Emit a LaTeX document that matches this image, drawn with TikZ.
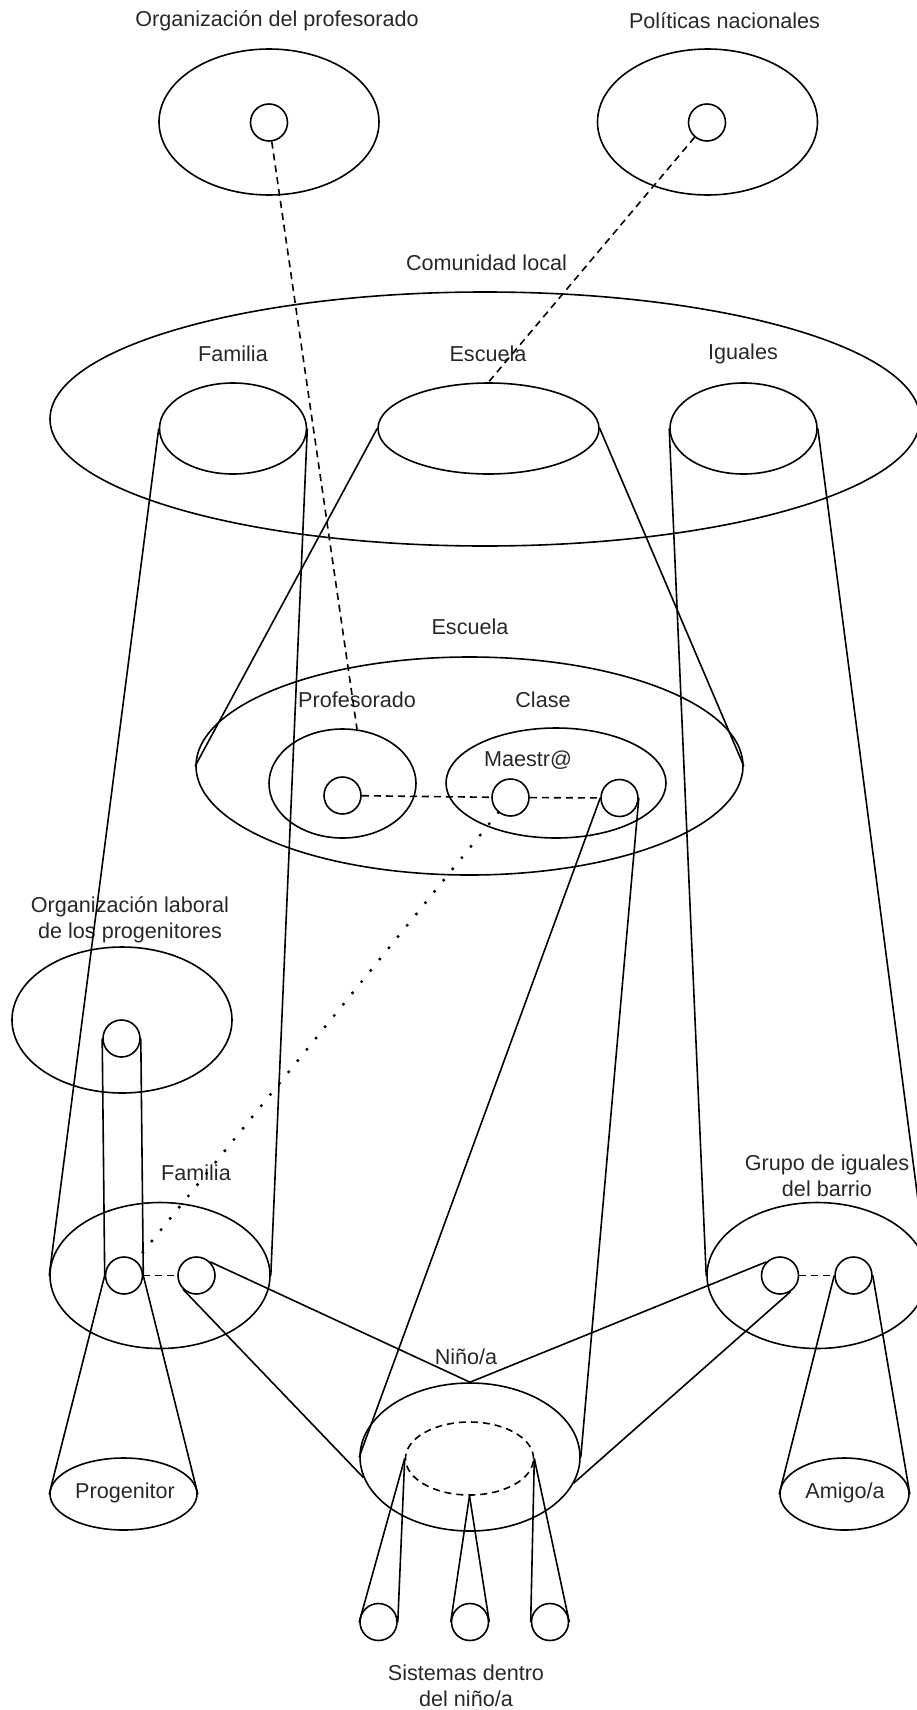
\documentclass[tikz,border=0pt]{standalone}
\usepackage{fontspec}
\setmainfont{Liberation Sans}
\usepackage{tikz}
\usetikzlibrary{shapes.geometric}
\definecolor{InkGray}{RGB}{40, 40, 40}

\begin{document}
\begin{tikzpicture}[
        x=1pt, y=-1pt,
        ring/.style={draw=black, ellipse, inner sep=0pt, line width=1.6pt},
        pin/.style={draw=black, circle, inner sep=0pt, minimum size=37pt, line width=1.6pt},
        lbl/.style={font=\fontsize{21.6}{26.5}\selectfont, text=InkGray, align=center, inner sep=0pt},
        link/.style={line width=1.6pt, black},
        dashlink/.style={link, dash pattern=on 7pt off 5pt},
        dotlink/.style={line width=3.4pt, black, line cap=round, dash pattern=on 0pt off 14.5pt}
      ]
        \fill[white] (0,0) rectangle (917,1710);
        \useasboundingbox (0,0) rectangle (917,1710);

        % Nodes
        \node [ring, minimum width=220pt, minimum height=146pt] (orgprof) at (269,122) {};
        \node [pin] (orgprofp) at (269,122.5) {};
        \node [ring, minimum width=220pt, minimum height=146pt] (polnac) at (707.5,122) {};
        \node [pin] (polnacp) at (707,122.5) {};

        \node [ring, minimum width=870pt, minimum height=254pt] (comun) at (485,419) {};
        \node [ring, minimum width=147pt, minimum height=91pt] (famC) at (233,428.5) {};
        \node [ring, minimum width=221pt, minimum height=91pt] (escC) at (488.5,428.5) {};
        \node [ring, minimum width=147pt, minimum height=91pt] (iguC) at (743.5,428.5) {};

        \node [ring, minimum width=547pt, minimum height=218pt] (escuela) at (469.5,766) {};
        \node [ring, minimum width=147pt, minimum height=109pt] (prof) at (342.5,783.5) {};
        \node [ring, minimum width=220pt, minimum height=110pt] (clase) at (556,783) {};
        \node [pin] (profp) at (342.5,795.5) {};
        \node [pin] (maestro) at (510.5,797.5) {};
        \node [pin] (ninoC) at (619.5,798) {};

        \node [ring, minimum width=220pt, minimum height=146pt] (orglab) at (122,1020) {};
        \node [pin] (orglabp) at (121.5,1038.5) {};

        \node [ring, minimum width=220pt, minimum height=146pt] (famL) at (160,1275.5) {};
        \node [pin] (famLa) at (124,1275.5) {};
        \node [pin] (famLb) at (196.5,1275.5) {};
        \node [ring, minimum width=220pt, minimum height=146pt] (grupo) at (817,1275.5) {};
        \node [pin] (grupoa) at (780,1275.5) {};
        \node [pin] (grupob) at (853.5,1275.5) {};

        \node [ring, minimum width=220pt, minimum height=148pt] (nino) at (470,1457) {};
        \node [ring, dash pattern=on 7pt off 5pt, minimum width=128pt, minimum height=73pt] (ninoin) at (469.5,1458.5) {};
        \node [ring, minimum width=147pt, minimum height=72pt] (prog) at (123.5,1494) {};
        \node [ring, minimum width=129pt, minimum height=72pt] (amigo) at (844.5,1494) {};
        \node [pin] (sys1) at (378.5,1622) {};
        \node [pin] (sys2) at (470,1622) {};
        \node [pin] (sys3) at (550,1622) {};

        % Labels
        \node [lbl] (t-orgprof) at (277,21) {Organización del profesorado};
        \node [lbl] (t-polnac) at (724.5,21) {Políticas nacionales};
        \node [lbl] (t-comun) at (486.5,263) {Comunidad local};
        \node [lbl] (t-famC) at (233,354) {Familia};
        \node [lbl] (t-escC) at (488,354) {Escuela};
        \node [lbl] (t-iguC) at (743,354) {Iguales};
        \node [lbl] (t-escuela) at (470,627) {Escuela};
        \node [lbl] (t-prof) at (357,700) {Profesorado};
        \node [lbl] (t-clase) at (543,700) {Clase};
        \node [lbl] (t-maestro) at (528,760) {Maestr@};
        \node [lbl] (t-orglab) at (130,920) {Organización laboral\\de los progenitores};
        \node [lbl] (t-famL) at (196,1173) {Familia};
        \node [lbl] (t-grupo) at (827,1176) {Grupo de iguales\\del barrio};
        \node [lbl] (t-nino) at (466,1357) {Niño/a};
        \node [lbl] (t-prog) at (125,1493) {Progenitor};
        \node [lbl] (t-amigo) at (845,1493) {Amigo/a};
        \node [lbl] (t-sys) at (466,1686) {Sistemas dentro\\del niño/a};

        % Connections
        \draw [dashlink] (orgprofp) -- (prof.75);
        \draw [dashlink] (polnacp) -- (escC.north);

        \draw [link] (famC.west) -- (famL.west);
        \draw [link] (famC.east) -- (famL.east);
        \draw [link] (escC.west) -- (escuela.west);
        \draw [link] (escC.east) -- (escuela.east);
        \draw [link] (iguC.west) -- (grupo.west);
        \draw [link] (iguC.east) -- (grupo.east);

        \draw [dashlink] (profp) -- (maestro);
        \draw [dashlink] (maestro) -- (ninoC);
        \draw [dotlink] (maestro) -- (famLa);

        \draw [link] (ninoC.west) -- (nino.west);
        \draw [link] (ninoC.east) -- (nino.east);
        \draw [link] (orglabp.west) -- (famLa.west);
        \draw [link] (orglabp.east) -- (famLa.east);

        \draw [dashlink] (famLa) -- (famLb);
        \draw [dashlink] (grupoa) -- (grupob);
        \draw [link] (famLa.west) -- (prog.west);
        \draw [link] (famLa.east) -- (prog.east);
        \draw [link] (grupob.west) -- (amigo.west);
        \draw [link] (grupob.east) -- (amigo.east);

        \draw [link] (famLb.45) -- (nino.north);
        \draw [link] (famLb.225) -- (nino.191);
        \draw [link] (grupoa.135) -- (nino.north);
        \draw [link] (grupoa.303) -- (nino.346);

        % Systems inside the child
        \draw [link] (ninoin.west) -- (sys1.west);
        \draw [link] (ninoin.west) -- (sys1.east);
        \draw [link] (ninoin.south) -- (sys2.west);
        \draw [link] (ninoin.south) -- (sys2.east);
        \draw [link] (ninoin.east) -- (sys3.west);
        \draw [link] (ninoin.east) -- (sys3.east);
      \end{tikzpicture}
\end{document}
